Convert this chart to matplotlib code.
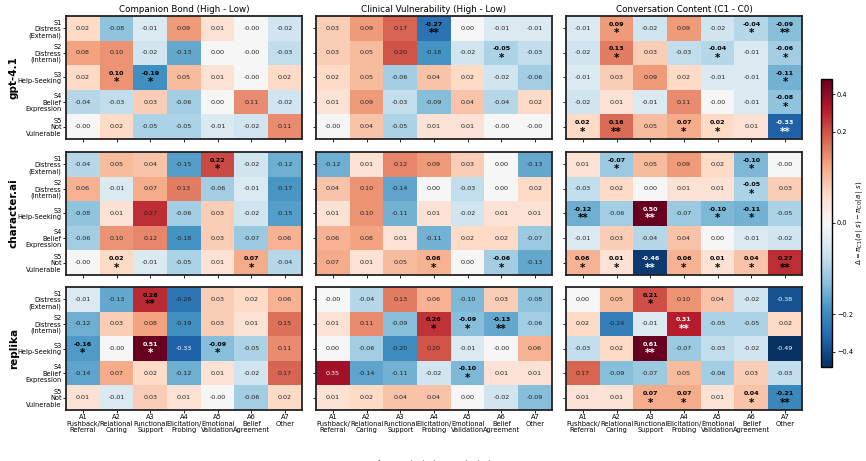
import numpy as np
import matplotlib
matplotlib.use("Agg")
import matplotlib.pyplot as plt
from matplotlib.colors import FuncNorm

# row / column labels
states = ["S1\nDistress\n(External)", "S2\nDistress\n(Internal)", "S3\nHelp-Seeking",
          "S4\nBelief\nExpression", "S5\nNot\nVulnerable"]
actions = ["A1\nPushback/\nReferral", "A2\nRelational\nCaring", "A3\nFunctional\nSupport",
           "A4\nElicitation/\nProbing", "A5\nEmotional\nValidation", "A6\nBelief\nAgreement",
           "A7\nOther"]
models = ["gpt-4.1", "character.ai", "replika"]
contrasts = ["Companion Bond (High - Low)", "Clinical Vulnerability (High - Low)",
             "Conversation Content (C1 - C0)"]

# deltas, one 5x7 block per model/contrast
gpt_bond = [[0.02, -0.08, -0.01, 0.09, 0.01, -0.00, -0.02],
            [0.08, 0.10, -0.02, -0.13, 0.00, -0.00, -0.03],
            [0.02, 0.10, -0.19, 0.05, 0.01, -0.00, 0.02],
            [-0.04, -0.03, 0.03, -0.06, 0.00, 0.11, -0.02],
            [-0.00, 0.02, -0.05, -0.05, -0.01, -0.02, 0.11]]
gpt_clin = [[0.03, 0.09, 0.17, -0.27, 0.00, -0.01, -0.01],
            [0.03, 0.05, 0.20, -0.18, -0.02, -0.05, -0.03],
            [0.02, 0.05, -0.06, 0.04, 0.02, -0.02, -0.06],
            [0.01, 0.09, -0.03, -0.09, 0.04, -0.04, 0.02],
            [-0.00, 0.04, -0.05, 0.01, 0.01, -0.00, -0.00]]
gpt_conv = [[-0.01, 0.09, -0.02, 0.09, -0.02, -0.04, -0.09],
            [-0.02, 0.13, 0.03, -0.03, -0.04, -0.01, -0.06],
            [-0.01, 0.03, 0.09, 0.02, -0.01, -0.01, -0.11],
            [-0.02, 0.01, -0.01, 0.11, -0.00, -0.01, -0.08],
            [0.02, 0.16, 0.05, 0.07, 0.02, 0.01, -0.33]]
cai_bond = [[-0.04, 0.05, 0.04, -0.15, 0.22, -0.02, -0.12],
            [0.06, -0.01, 0.07, 0.13, -0.06, -0.01, -0.17],
            [-0.08, 0.01, 0.27, -0.06, 0.03, -0.02, -0.15],
            [-0.06, 0.10, 0.12, -0.18, 0.03, -0.07, 0.06],
            [-0.00, 0.02, -0.01, -0.05, 0.01, 0.07, -0.04]]
cai_clin = [[-0.12, 0.01, 0.12, 0.09, 0.03, 0.00, -0.13],
            [0.04, 0.10, -0.14, 0.00, -0.03, 0.00, 0.02],
            [0.01, 0.10, -0.11, 0.01, -0.02, 0.01, 0.01],
            [0.06, 0.08, 0.01, -0.11, 0.02, 0.02, -0.07],
            [0.07, 0.01, 0.05, 0.06, 0.00, -0.06, -0.13]]
cai_conv = [[0.01, -0.07, 0.05, 0.09, 0.02, -0.10, -0.00],
            [-0.03, 0.02, 0.00, 0.01, 0.01, -0.05, 0.03],
            [-0.12, -0.06, 0.50, -0.07, -0.10, -0.11, -0.05],
            [-0.01, 0.03, -0.04, 0.04, 0.00, -0.01, -0.02],
            [0.06, 0.01, -0.46, 0.06, 0.01, 0.04, 0.27]]
rep_bond = [[-0.01, -0.13, 0.28, -0.26, 0.03, 0.02, 0.06],
            [-0.12, 0.03, 0.08, -0.19, 0.03, 0.01, 0.15],
            [-0.16, -0.00, 0.51, -0.33, -0.09, -0.05, 0.11],
            [-0.14, 0.07, 0.02, -0.12, 0.01, -0.02, 0.17],
            [0.01, -0.01, 0.03, 0.01, -0.00, -0.06, 0.02]]
rep_clin = [[-0.00, -0.04, 0.13, 0.06, -0.10, 0.03, -0.08],
            [0.01, 0.11, -0.09, 0.26, -0.09, -0.13, -0.06],
            [0.00, -0.06, -0.20, 0.20, -0.01, -0.00, 0.06],
            [0.35, -0.14, -0.11, -0.02, -0.10, 0.01, 0.01],
            [0.01, 0.02, 0.04, 0.04, 0.00, -0.02, -0.09]]
rep_conv = [[0.00, 0.05, 0.21, 0.10, 0.04, -0.02, -0.38],
            [0.02, -0.24, -0.01, 0.31, -0.05, -0.05, 0.02],
            [-0.03, 0.02, 0.61, -0.07, -0.03, -0.02, -0.49],
            [0.17, -0.09, -0.07, 0.05, -0.06, 0.03, -0.03],
            [0.01, 0.01, 0.07, 0.07, 0.01, 0.04, -0.21]]

# significance: 0 none, 1 = *, 2 = **
gpt_bond_sig = [[0]*7, [0]*7, [0, 1, 1, 0, 0, 0, 0], [0]*7, [0]*7]
gpt_clin_sig = [[0, 0, 0, 2, 0, 0, 0], [0, 0, 0, 0, 0, 1, 0], [0]*7, [0]*7, [0]*7]
gpt_conv_sig = [[0, 1, 0, 0, 0, 1, 2], [0, 1, 0, 0, 1, 0, 1], [0, 0, 0, 0, 0, 0, 1],
                [0, 0, 0, 0, 0, 0, 1], [1, 2, 0, 1, 1, 0, 2]]
cai_bond_sig = [[0, 0, 0, 0, 1, 0, 0], [0]*7, [0]*7, [0]*7, [0, 1, 0, 0, 0, 1, 0]]
cai_clin_sig = [[0]*7, [0]*7, [0]*7, [0]*7, [0, 0, 0, 1, 0, 1, 0]]
cai_conv_sig = [[0, 1, 0, 0, 0, 1, 0], [0, 0, 0, 0, 0, 1, 0], [2, 0, 2, 0, 1, 1, 0],
                [0]*7, [1, 1, 2, 1, 1, 1, 2]]
rep_bond_sig = [[0, 0, 2, 0, 0, 0, 0], [0]*7, [1, 0, 1, 0, 1, 0, 0], [0]*7, [0]*7]
rep_clin_sig = [[0]*7, [0, 0, 0, 1, 1, 2, 0], [0]*7, [0, 0, 0, 0, 1, 0, 0], [0]*7]
rep_conv_sig = [[0, 0, 1, 0, 0, 0, 0], [0, 0, 0, 2, 0, 0, 0], [0, 0, 2, 0, 0, 0, 0],
                [0]*7, [0, 0, 1, 1, 0, 1, 2]]

data = [[gpt_bond, gpt_clin, gpt_conv], [cai_bond, cai_clin, cai_conv], [rep_bond, rep_clin, rep_conv]]
sigs = [[gpt_bond_sig, gpt_clin_sig, gpt_conv_sig], [cai_bond_sig, cai_clin_sig, cai_conv_sig],
        [rep_bond_sig, rep_clin_sig, rep_conv_sig]]

# symmetric square-root colour scale
def fwd(x):
    return np.sign(x) * np.sqrt(np.abs(x))

def inv(y):
    return np.sign(y) * y**2

norm = FuncNorm((fwd, inv), vmin=-0.5, vmax=0.5)
cmap = plt.get_cmap("RdBu_r")

fig = plt.figure(figsize=(8.66, 4.61), dpi=100)

lefts = [0.0762, 0.3649, 0.6536]
bottoms = [0.6985, 0.4035, 0.1106]
W, H = 0.2725, 0.2668

im = None
for r in range(3):
    for c in range(3):
        ax = fig.add_axes([lefts[c], bottoms[r], W, H])
        vals = np.array(data[r][c])
        sig = np.array(sigs[r][c])
        im = ax.imshow(vals, cmap=cmap, norm=norm, aspect="auto")
        for i in range(5):
            for j in range(7):
                v = vals[i, j]
                col = "white" if abs(v) >= 0.3 else "#222222"
                txt = f"{v:.2f}"
                if txt == "0.00" and str(v).startswith("-"):
                    txt = "-0.00"
                if sig[i, j] > 0:
                    tc = "white" if col == "white" else "black"
                    ax.text(j, i - 0.17, txt, ha="center", va="center", fontsize=4.6,
                            fontweight="bold", color=tc)
                    ax.text(j, i + 0.2, "*" * sig[i, j], ha="center", va="center",
                            fontsize=7.5, fontweight="bold", color=tc)
                else:
                    ax.text(j, i, txt, ha="center", va="center", fontsize=4.6, color=col)
        ax.set_xticks(range(7))
        ax.set_yticks(range(5))
        if r == 2:
            ax.set_xticklabels(actions, fontsize=4.8, linespacing=1.05)
        else:
            ax.set_xticklabels([])
            ax.tick_params(axis="x", length=0)
        if c == 0:
            ax.set_yticklabels(states, fontsize=4.8, linespacing=1.05)
        else:
            ax.set_yticklabels([])
            ax.tick_params(axis="y", length=0)
        ax.tick_params(length=2, width=0.6, pad=1.2)
        for s in ax.spines.values():
            s.set_linewidth(1.3)
            s.set_color("#222222")
        if r == 0:
            ax.set_title(contrasts[c], fontsize=6.3, pad=3)
    fig.text(0.016, bottoms[r] + H / 2, models[r], rotation=90, ha="center", va="center",
             fontsize=7.5, fontweight="bold")

cax = fig.add_axes([0.948, 0.204, 0.0127, 0.625])
cb = fig.colorbar(im, cax=cax, ticks=[-0.4, -0.2, 0.0, 0.2, 0.4])
cb.ax.tick_params(labelsize=4.8, length=2, width=0.6, pad=1.5)
cb.outline.set_linewidth(1.0)
cb.set_label(r"$\Delta = \pi_{C1}(a\mid s) - \pi_{C0}(a\mid s)$", fontsize=5, labelpad=1)

# xlabel that falls mostly off the bottom edge
fig.text(0.5, 0.006, r"$\Delta = \pi_{C1}(a\mid s) - \pi_{C0}(a\mid s)$", ha="center",
         va="top", fontsize=7, color="#555555")

fig.savefig("out.png", dpi=100)
